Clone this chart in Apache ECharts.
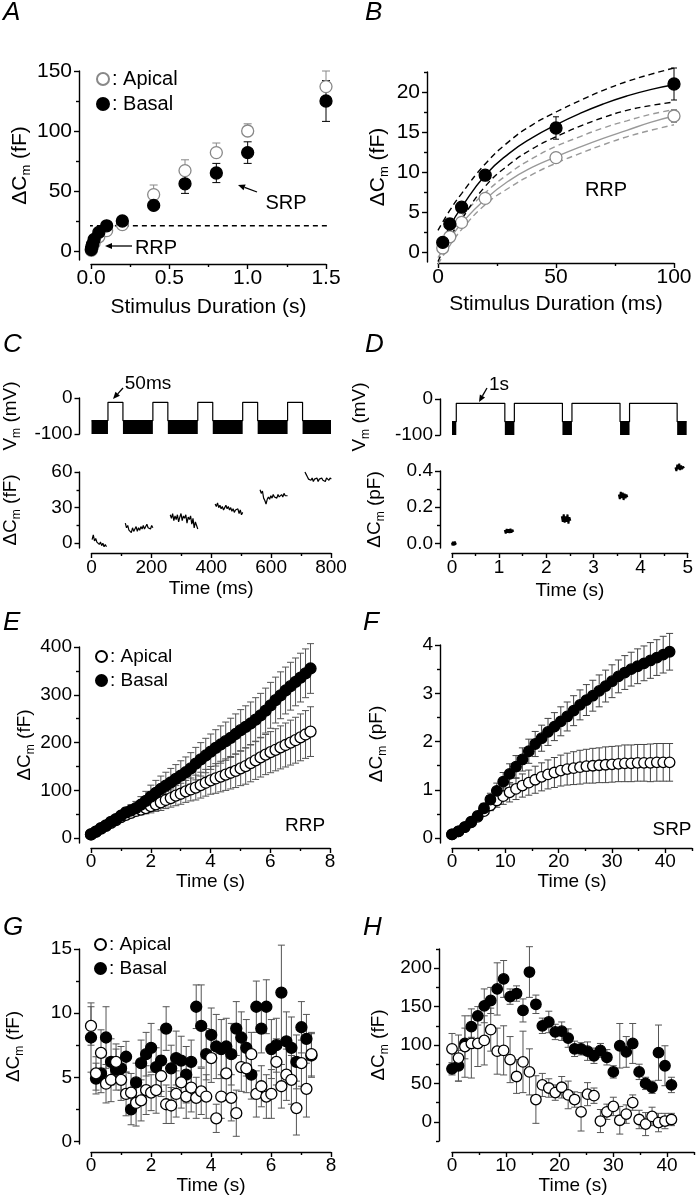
<!DOCTYPE html>
<html><head><meta charset="utf-8">
<script src="https://cdn.jsdelivr.net/npm/echarts@6/dist/echarts.min.js"></script>
<style>html,body{margin:0;padding:0;background:#fff}#c{width:696px;height:1200px}</style>
</head><body><div id="c"></div>
<script>
// ---------------- DATA ----------------
// Panel A
const A_DUR = [0.002,0.005,0.01,0.02,0.05,0.1,0.2,0.4,0.6,0.8,1.0,1.5];
const A_APICAL = [0.5,1.9,3.7,6.7,11.8,17,22,47,67,82,100,137];
const A_APICAL_ERR = [0.3,0.4,0.5,0.7,0.6,1.0,1.5,8,9,8,6,13];
const A_BASAL = [1.2,3.5,5.6,9.6,15.5,21,25,38,56,65,82,125];
const A_BASAL_ERR = [0.5,0.7,0.6,0.6,1.4,2,2,3,8,8,9,17];
const A_RRP_LEVEL = 21;
const A_RRP_SPAN = [-0.02,1.62];
// Panel B
const B_DUR = [2,5,10,20,50,100];
const B_APICAL = [0.5,1.9,3.7,6.7,11.8,17.0];
const B_APICAL_ERR = [0.3,0.3,0.4,0.6,0.4,0.8];
const B_BASAL = [1.2,3.5,5.6,9.6,15.5,21.0];
const B_BASAL_ERR = [0.4,0.6,0.5,0.6,1.4,2.0];
const B_FIT_T = [0,5,10,20,30,40,50,60,70,80,90,100];
const B_FIT_BASAL = [0.2,3.2,5.6,9.6,12.3,14.3,15.9,17.3,18.5,19.5,20.3,20.9];
const B_FIT_BASAL_HI = [2.7,5.2,7.3,11.0,13.8,15.9,17.5,18.9,20.2,21.3,22.2,23.0];
const B_FIT_BASAL_LO = [-1.2,1.8,4.1,8.2,10.9,12.9,14.4,15.7,16.8,17.7,18.3,18.75];
const B_FIT_APICAL = [-0.7,1.6,3.6,6.6,8.9,10.6,11.9,13.1,14.2,15.2,16.2,17.0];
const B_FIT_APICAL_HI = [0.6,2.6,4.5,7.4,9.8,11.7,13.2,14.4,15.5,16.4,17.2,17.8];
const B_FIT_APICAL_LO = [-1.5,0.8,2.8,5.9,8.0,9.7,11.1,12.3,13.4,14.4,15.2,15.9];
// Panel C (ms)
const C_END = 800;
const C_PULSE_ON = [55,205,355,505,655];
const C_PULSE_OFF = [105,255,405,555,705];
const VM_PULSE = -12, VM_HOLD_TOP = -63, VM_HOLD_BOTTOM = -100;
const C_CM_START = [2,113,263,413,563,713];
const C_CM_DT = 4;
const C_CM_1 = [3,7,2,4,1,2,-1,1,-2,0,-3,-1,-3];
const C_CM_2 = [17,13,15,11,12,9,13,10,12,14,10,13,11,14,12,15,12,13,16,13,14,12,15,13];
const C_CM_3 = [24,21,25,19,23,20,24,18,22,25,19,23,21,24,17,22,20,23,16,21,13,18,15,12];
const C_CM_4 = [33,31,34,30,32,29,31,28,30,32,29,31,28,30,27,29,26,28,27,29,25,28,24,26];
const C_CM_5 = [45,42,44,38,36,33,37,39,37,40,38,41,39,40,38,41,39,40,41,39,42,40,41,40];
const C_CM_6 = [60,58,56,54,55,53,55,52,54,53,55,52,54,53,55,53,54,52,55,54,53,55,54];
// Panel D (s)
const D_END = 4.93;
const D_PULSE_ON = [0.09,1.31,2.52,3.73];
const D_PULSE_OFF = [1.11,2.32,3.53,4.73];
const D_CM_START = [0.0,1.12,2.33,3.54,4.74];
const D_CM_DT = [0.01,0.02,0.02,0.02,0.02];
const D_CM_1 = [0.005,-0.01,0.01,-0.012,0.008,-0.01,0.012,-0.008,0.005];
const D_CM_2 = [0.075,0.055,0.08,0.06,0.078,0.058,0.082,0.06,0.076,0.064];
const D_CM_3 = [0.15,0.12,0.16,0.115,0.15,0.12,0.16,0.11,0.145,0.125];
const D_CM_4 = [0.27,0.245,0.285,0.25,0.28,0.24,0.275,0.25,0.27,0.255];
const D_CM_5 = [0.42,0.40,0.435,0.41,0.44,0.405,0.43,0.41,0.425,0.415];
// Panel E (RRP train, s)
const E_DT = 0.167;
const E_APICAL = [8,14,20,26,32,38,44,49,53,57,60,63,67,71,75,80,84,89,93,98,102,106,111,116,121,125,129,133,137,141,146,151,157,163,169,175,180,185,190,195,200,205,211,217,223];
const E_APICAL_ERR = [2,3,3,4,5,6,7,8,9,10,11,12,14,15,17,18,19,21,22,23,24,26,27,28,29,31,32,33,34,35,36,38,39,40,41,42,43,44,45,46,47,48,49,50,52];
const E_BASAL = [8,14,21,27,34,40,47,54,58,63,70,78,87,95,103,110,117,124,131,138,146,156,165,173,181,189,196,203,210,218,226,233,240,248,257,267,278,289,299,309,318,327,336,345,355];
const E_BASAL_ERR = [2,3,4,5,6,7,9,10,12,14,17,20,24,26,27,28,29,30,31,32,33,34,35,36,37,38,39,40,41,42,43,44,45,46,46,47,48,48,49,49,50,50,51,51,52];
// Panel F (SRP train, s)
const F_DT = 1.2;
const F_APICAL = [0.08,0.14,0.23,0.33,0.44,0.56,0.68,0.78,0.87,0.95,1.02,1.09,1.15,1.21,1.27,1.32,1.36,1.40,1.43,1.45,1.47,1.49,1.50,1.51,1.52,1.53,1.54,1.55,1.55,1.56,1.56,1.56,1.57,1.57,1.57];
const F_APICAL_ERR = [0.02,0.03,0.04,0.05,0.06,0.08,0.11,0.14,0.17,0.20,0.22,0.24,0.26,0.28,0.29,0.30,0.31,0.32,0.33,0.34,0.35,0.35,0.36,0.36,0.37,0.37,0.37,0.38,0.38,0.38,0.38,0.39,0.39,0.39,0.39];
const F_BASAL = [0.08,0.14,0.23,0.34,0.46,0.62,0.80,0.98,1.17,1.33,1.48,1.63,1.80,1.95,2.07,2.20,2.31,2.42,2.52,2.64,2.76,2.86,2.95,3.05,3.15,3.25,3.35,3.43,3.50,3.56,3.62,3.68,3.74,3.80,3.86];
const F_BASAL_ERR = [0.02,0.03,0.04,0.05,0.07,0.10,0.13,0.16,0.19,0.21,0.23,0.24,0.25,0.26,0.27,0.28,0.29,0.30,0.30,0.31,0.31,0.32,0.32,0.33,0.33,0.34,0.34,0.35,0.35,0.36,0.36,0.37,0.37,0.38,0.38];
// Panel G (per-pulse RRP, s)
const G_DT = 0.167;
const G_APICAL = [9.0,5.3,6.9,4.5,4.8,6.2,4.8,3.7,3.8,3.0,3.2,4.0,3.8,4.0,5.1,2.9,2.8,3.7,4.6,3.5,4.2,3.4,3.9,3.5,6.5,1.8,3.5,5.3,3.4,2.2,5.8,5.7,6.8,3.7,4.3,3.5,3.7,6.2,4.3,5.2,4.8,2.6,6.1,4.1,6.8];
const G_APICAL_ERR = [1.5,1.3,1.8,1.5,1.7,1.4,1.6,1.7,1.5,1.8,1.6,1.9,1.4,1.8,1.6,1.5,1.4,1.8,2.0,1.7,1.9,1.6,1.8,1.7,1.9,1.1,1.7,2.1,1.8,1.8,1.9,1.9,1.7,1.8,1.6,1.7,1.9,1.8,1.7,2.0,1.9,2.1,1.8,2.2,1.7];
const G_BASAL = [8.1,4.9,5.3,8.1,6.2,5.6,5.7,6.6,2.5,4.6,6.1,6.8,7.3,5.8,6.3,8.8,5.7,6.5,6.3,5.2,6.2,10.5,9.0,6.8,8.3,7.4,7.2,7.4,6.8,8.8,8.1,7.3,5.2,10.5,8.8,10.5,7.2,7.5,11.6,7.8,7.3,6.2,8.9,8.0,6.7];
const G_BASAL_ERR = [2.7,1.2,1.5,2.4,1.8,1.6,1.7,1.2,1.2,1.5,1.8,1.7,1.9,1.5,2.4,1.7,1.8,2.1,1.9,2.2,1.7,1.7,3.2,2.0,2.1,2.5,2.3,2.2,2.4,2.1,2.0,2.2,1.9,2.0,1.9,2.1,2.3,2.1,3.7,2.3,2.4,2.1,2.0,1.9,1.7];
// Panel H (per-pulse SRP, s)
const H_DT = 1.2;
const H_APICAL = [95,83,98,102,102,106,120,92,93,81,59,78,65,29,48,44,38,45,35,29,13,36,34,1,13,20,2,10,25,3,-3,7,-1,1,3];
const H_APICAL_ERR = [20,30,40,45,30,32,28,30,32,30,22,40,30,31,15,12,10,14,18,10,25,15,10,15,10,12,18,12,10,12,15,12,12,10,8];
const H_BASAL = [69,73,102,124,138,151,158,173,186,163,167,145,195,153,125,130,117,118,109,95,95,92,86,93,84,65,99,91,102,65,50,45,90,73,48];
const H_BASAL_ERR = [8,20,20,14,12,22,17,34,24,10,10,15,33,12,10,14,10,12,12,10,8,12,10,9,10,8,29,20,26,10,8,8,36,26,10];

// ---------------- BUILD ----------------
const FONT = '"Liberation Sans", Arial, Helvetica, sans-serif';
const grid = [], xAxis = [], yAxis = [], series = [], legend = [], graphic = [];

function cmName(u){ return '{a|\u0394C}{s|m}{a| (' + u + ')}'; }
function vmName(){ return '{a|V}{s|m}{a| (mV)}'; }
function nameStyle(fs){ return {fontSize:fs, fontFamily:FONT, color:'#000'}; }
function richStyle(fs){ return {fontSize:fs, fontFamily:FONT, color:'#000', rich:{
  a:{fontSize:fs, fontFamily:FONT, color:'#000', lineHeight:fs+5},
  s:{fontSize:Math.round(fs*0.63), fontFamily:FONT, color:'#000', lineHeight:Math.round(fs*0.63), verticalAlign:'bottom'}}}; }

function axisPair(list, g, pos, o){
  const show = o.show !== false;
  const fs = o.fs || 19;
  const common = {type:'value', gridIndex:g, position:pos, offset:o.offset||0, min:o.min, max:o.max, splitLine:{show:false}};
  list.push(Object.assign({}, common, {
    axisLine:{show:show, onZero:false, lineStyle:{color:'#000', width:1.4}},
    axisTick:{show:show, length:5, customValues:o.major, lineStyle:{color:'#000', width:1.4}},
    axisLabel:{show:show, customValues:o.major, margin:(o.margin!=null?o.margin:7), fontSize:fs, fontFamily:FONT, color:'#000', formatter:o.fmt},
    name:o.name||'', nameLocation:'middle', nameGap:o.nameGap||30,
    nameTextStyle:o.rich ? richStyle(fs) : nameStyle(fs)
  }));
  const idx = list.length - 1;
  if (show && o.minor){
    list.push(Object.assign({}, common, {
      axisLine:{show:false, onZero:false}, axisLabel:{show:false},
      axisTick:{show:true, length:3, customValues:o.minor, lineStyle:{color:'#000', width:1.4}}}));
  }
  return idx;
}
function panel(o){
  grid.push({left:o.left, top:o.top, width:o.width, height:o.height});
  const g = grid.length - 1;
  return {g, xi:axisPair(xAxis, g, 'bottom', o.x), yi:axisPair(yAxis, g, 'left', o.y)};
}
function scat(p, name, xs, ys, size, fill, stroke, z){
  series.push({type:'scatter', name, xAxisIndex:p.xi, yAxisIndex:p.yi, symbol:'circle', symbolSize:size,
    data:xs.map((x,i)=>[x, ys[i]]), itemStyle:{color:fill, borderColor:stroke, borderWidth:1.3, opacity:1},
    z, silent:true, clip:false});
}
function errRender(color, cap){
  return function(params, api){
    const x = api.value(0);
    const a = api.coord([x, api.value(1)]), b = api.coord([x, api.value(2)]);
    const st = {stroke:color, lineWidth:1};
    return {type:'group', children:[
      {type:'line', shape:{x1:a[0], y1:a[1], x2:b[0], y2:b[1]}, style:st},
      {type:'line', shape:{x1:a[0]-cap, y1:a[1], x2:a[0]+cap, y2:a[1]}, style:st},
      {type:'line', shape:{x1:b[0]-cap, y1:b[1], x2:b[0]+cap, y2:b[1]}, style:st}]};
  };
}
function errs(p, xs, ys, err, mode, color, cap, z){
  series.push({type:'custom', xAxisIndex:p.xi, yAxisIndex:p.yi, clip:false, silent:true, z,
    renderItem:errRender(color, cap), encode:{x:0, y:[1,2]},
    data:xs.map((x,i)=>[x, mode==='up' ? ys[i] : ys[i]-err[i], mode==='down' ? ys[i] : ys[i]+err[i]])});
}
function line(p, data, color, width, type, z, smooth){
  series.push({type:'line', xAxisIndex:p.xi, yAxisIndex:p.yi, data, showSymbol:false, symbol:'none',
    lineStyle:{color, width, type}, smooth:!!smooth, z:z||2, silent:true, clip:false});
}
function times(n, dt, start){ const t=[]; for(let i=0;i<n;i++) t.push(+((start||0)+i*dt).toFixed(4)); return t; }
function vmPanel(p, on, off, end){
  const d = [[0, VM_HOLD_TOP]];
  const blocks = [];
  let prev = 0;
  on.forEach((s,i)=>{
    blocks.push([prev, s, VM_HOLD_TOP, VM_HOLD_BOTTOM]);
    d.push([s, VM_HOLD_TOP],[s, VM_PULSE],[off[i], VM_PULSE],[off[i], VM_HOLD_TOP]);
    prev = off[i];
  });
  blocks.push([prev, end, VM_HOLD_TOP, VM_HOLD_BOTTOM]);
  d.push([end, VM_HOLD_TOP]);
  line(p, d, '#000', 1.2, 'solid', 3);
  series.push({type:'custom', xAxisIndex:p.xi, yAxisIndex:p.yi, clip:false, silent:true, z:3, data:blocks,
    encode:{x:[0,1], y:[2,3]},
    renderItem:function(params, api){
      const p0 = api.coord([api.value(0), api.value(2)]), p1 = api.coord([api.value(1), api.value(3)]);
      return {type:'rect', shape:{x:p0[0], y:p0[1], width:p1[0]-p0[0], height:p1[1]-p0[1]}, style:{fill:'#000'}};
    }});
}
function trace(p, start, dt, vals, w){
  const t = times(vals.length, dt, start);
  line(p, t.map((x,i)=>[x, vals[i]]), '#000', w||1.2, 'solid', 3);
}
function txt(x, y, s, size, extra){
  graphic.push({type:'text', x, y, silent:true, style:Object.assign({text:s, fontSize:size||19, fontFamily:FONT, fill:'#000', align:'center', verticalAlign:'middle'}, extra||{})});
}
function letter(x, y, s){ txt(x, y, s, 26, {fontStyle:'italic', align:'left', verticalAlign:'top'}); }
function arrow(x1, y1, x2, y2){
  const ang = Math.atan2(y2-y1, x2-x1), L = 7, W = 3;
  const bx = x2 - L*Math.cos(ang), by = y2 - L*Math.sin(ang);
  const px = -Math.sin(ang)*W, py = Math.cos(ang)*W;
  graphic.push({type:'line', silent:true, shape:{x1, y1, x2:bx, y2:by}, style:{stroke:'#000', lineWidth:1.3}});
  graphic.push({type:'polygon', silent:true, shape:{points:[[x2,y2],[bx+px,by+py],[bx-px,by-py]]}, style:{fill:'#000'}});
}
function addLegend(left, top, names, size, fs){
  legend.push({left, top, orient:'vertical', itemWidth:size, itemHeight:size, itemGap:5, selectedMode:false,
    data:names, formatter:n => ': ' + n.split('_')[1],
    textStyle:{fontSize:fs||19, fontFamily:FONT, color:'#000', padding:[0,0,0,-2]}});
}

// ---- Panel A ----
const PA = panel({left:91, top:71, width:235, height:189,
  x:{min:0, max:1.5, major:[0,0.5,1,1.5], minor:[0.25,0.75,1.25], offset:4, margin:4, fs:21, fmt:v=>v.toFixed(1), name:'Stimulus Duration (s)', nameGap:33},
  y:{min:-7.5, max:150, major:[0,50,100,150], minor:[25,75,125], offset:12, fs:21, name:cmName('fF'), rich:true, nameGap:36}});
line(PA, A_RRP_SPAN.map(x=>[x, A_RRP_LEVEL]), '#000', 1.4, [5,4], 1);
errs(PA, A_DUR, A_APICAL, A_APICAL_ERR, 'up', '#888', 4, 2);
errs(PA, A_DUR, A_BASAL, A_BASAL_ERR, 'both', '#000', 4, 2);
scat(PA, 'A_Apical', A_DUR, A_APICAL, 12, '#fff', '#888', 4);
scat(PA, 'A_Basal', A_DUR, A_BASAL, 12, '#000', '#000', 5);
addLegend(91, 64, ['A_Apical','A_Basal'], 12, 20);
letter(3, 0, 'A');
txt(286, 203, 'SRP', 20); arrow(257, 192, 238, 185);
txt(156, 248, 'RRP', 20); arrow(132, 246, 105, 246);

// ---- Panel B ----
const PB = panel({left:438, top:72, width:236, height:190,
  x:{min:0, max:100, major:[0,50,100], minor:[25,75], offset:1, margin:4, fs:21, name:'Stimulus Duration (ms)', nameGap:31},
  y:{min:-1.25, max:22.5, major:[0,5,10,15,20], minor:[2.5,7.5,12.5,17.5,22.5], offset:11, fs:21, name:cmName('fF'), rich:true, nameGap:36}});
const bz = (arr)=>B_FIT_T.map((t,i)=>[t, arr[i]]);
line(PB, bz(B_FIT_APICAL_HI), '#999', 1.4, [6,4], 1, true);
line(PB, bz(B_FIT_APICAL_LO), '#999', 1.4, [6,4], 1, true);
line(PB, bz(B_FIT_APICAL), '#999', 1.4, 'solid', 1, true);
line(PB, bz(B_FIT_BASAL_HI), '#000', 1.4, [6,4], 1, true);
line(PB, bz(B_FIT_BASAL_LO), '#000', 1.4, [6,4], 1, true);
line(PB, bz(B_FIT_BASAL), '#000', 1.4, 'solid', 1, true);
errs(PB, B_DUR, B_APICAL, B_APICAL_ERR, 'both', '#888', 3, 2);
errs(PB, B_DUR, B_BASAL, B_BASAL_ERR, 'both', '#000', 3, 2);
scat(PB, 'B_Apical', B_DUR, B_APICAL, 12, '#fff', '#888', 4);
scat(PB, 'B_Basal', B_DUR, B_BASAL, 12, '#000', '#000', 5);
letter(365, 0, 'B');
txt(606, 190, 'RRP', 20);

// ---- Panel C ----
const PCv = panel({left:91, top:398, width:240, height:36,
  x:{min:0, max:C_END, show:false},
  y:{min:-100, max:0, major:[-100,0], offset:12, name:vmName(), rich:true, nameGap:57}});
vmPanel(PCv, C_PULSE_ON, C_PULSE_OFF, C_END);
const PCc = panel({left:91, top:472, width:240, height:76,
  x:{min:0, max:800, major:[0,200,400,600,800], minor:[100,300,500,700], offset:5, margin:5, name:'Time (ms)', nameGap:26},
  y:{min:-4, max:60, major:[0,30,60], minor:[15,45], offset:12, name:cmName('fF'), rich:true, nameGap:57}});
[C_CM_1,C_CM_2,C_CM_3,C_CM_4,C_CM_5,C_CM_6].forEach((v,i)=>trace(PCc, C_CM_START[i], C_CM_DT, v, 1.2));
letter(3, 332, 'C');
txt(148, 384, '50ms'); arrow(123, 388, 113, 399);

// ---- Panel D ----
const PDv = panel({left:452, top:399, width:238, height:36,
  x:{min:0, max:5, show:false},
  y:{min:-100, max:0, major:[-100,0], offset:12, name:vmName(), rich:true, nameGap:68}});
vmPanel(PDv, D_PULSE_ON, D_PULSE_OFF, D_END);
const PDc = panel({left:452, top:471, width:238, height:77,
  x:{min:0, max:5, major:[0,1,2,3,4,5], minor:[0.5,1.5,2.5,3.5,4.5], offset:5, margin:5, name:'Time (s)', nameGap:28},
  y:{min:-0.025, max:0.4, major:[0,0.2,0.4], minor:[0.1,0.3], offset:12, fmt:v=>v.toFixed(1), name:cmName('pF'), rich:true, nameGap:53}});
[D_CM_1,D_CM_2,D_CM_3,D_CM_4,D_CM_5].forEach((v,i)=>trace(PDc, D_CM_START[i], D_CM_DT[i], v, 2));
letter(365, 332, 'D');
txt(499, 385, '1s'); arrow(487, 388, 479, 402);

// ---- Panel E ----
const PE = panel({left:91, top:647, width:239, height:196,
  x:{min:0, max:8, major:[0,2,4,6,8], minor:[1,3,5,7], offset:5, margin:4, name:'Time (s)', nameGap:23},
  y:{min:-10, max:400, major:[0,100,200,300,400], minor:[50,150,250,350], offset:12, name:cmName('fF'), rich:true, nameGap:39}});
const ET = times(E_APICAL.length, E_DT);
errs(PE, ET, E_APICAL, E_APICAL_ERR, 'both', '#555', 3.5, 2);
errs(PE, ET, E_BASAL, E_BASAL_ERR, 'both', '#555', 3.5, 2);
scat(PE, 'E_Apical', ET, E_APICAL, 11, '#fff', '#000', 4);
scat(PE, 'E_Basal', ET, E_BASAL, 11, '#000', '#000', 5);
addLegend(90, 642, ['E_Apical','E_Basal'], 11);
letter(3, 610, 'E');
txt(305, 826, 'RRP');

// ---- Panel F ----
const PF = panel({left:452, top:645, width:240, height:198,
  x:{min:0, max:45, major:[0,10,20,30,40], minor:[5,15,25,35,45], offset:5, margin:4, name:'Time (s)', nameGap:23},
  y:{min:-0.1, max:4, major:[0,1,2,3,4], minor:[0.5,1.5,2.5,3.5], offset:12, name:cmName('pF'), rich:true, nameGap:51}});
const FT = times(F_APICAL.length, F_DT);
errs(PF, FT, F_APICAL, F_APICAL_ERR, 'both', '#444', 3.5, 2);
errs(PF, FT, F_BASAL, F_BASAL_ERR, 'both', '#444', 3.5, 2);
scat(PF, 'F_Apical', FT, F_APICAL, 10.5, '#fff', '#000', 4);
scat(PF, 'F_Basal', FT, F_BASAL, 10.5, '#000', '#000', 5);
letter(363, 610, 'F');
txt(672, 830, 'SRP');

// ---- Panel G ----
const PG = panel({left:91, top:949, width:240, height:195,
  x:{min:0, max:8, major:[0,2,4,6,8], minor:[1,3,5,7], offset:8, margin:4, name:'Time (s)', nameGap:22},
  y:{min:-0.2, max:15, major:[0,5,10,15], minor:[2.5,7.5,12.5], offset:12, name:cmName('fF'), rich:true, nameGap:53}});
const GT = times(G_APICAL.length, G_DT);
errs(PG, GT, G_BASAL, G_BASAL_ERR, 'both', '#555', 3.5, 2);
errs(PG, GT, G_APICAL, G_APICAL_ERR, 'both', '#555', 3.5, 2);
scat(PG, 'G_Basal', GT, G_BASAL, 11, '#000', '#000', 4);
scat(PG, 'G_Apical', GT, G_APICAL, 11, '#fff', '#000', 5);
addLegend(89, 930, ['G_Apical','G_Basal'], 11);
letter(3, 915, 'G');

// ---- Panel H ----
const PH = panel({left:452, top:949, width:242, height:192,
  x:{min:0, max:45, major:[0,10,20,30,40], minor:[5,15,25,35,45], offset:11, margin:4, name:'Time (s)', nameGap:22},
  y:{min:-25, max:225, major:[0,50,100,150,200], minor:[-25,25,75,125,175,225], offset:13, name:cmName('fF'), rich:true, nameGap:48}});
const HT = times(H_APICAL.length, H_DT);
errs(PH, HT, H_BASAL, H_BASAL_ERR, 'both', '#555', 3.5, 2);
errs(PH, HT, H_APICAL, H_APICAL_ERR, 'both', '#555', 3.5, 2);
scat(PH, 'H_Basal', HT, H_BASAL, 10.5, '#000', '#000', 4);
scat(PH, 'H_Apical', HT, H_APICAL, 10.5, '#fff', '#000', 5);
letter(363, 915, 'H');

const chart = echarts.init(document.getElementById('c'), null, {renderer:'canvas'});
chart.setOption({animation:false, backgroundColor:'#fff', grid, xAxis, yAxis, series, legend, graphic});
</script></body></html>
